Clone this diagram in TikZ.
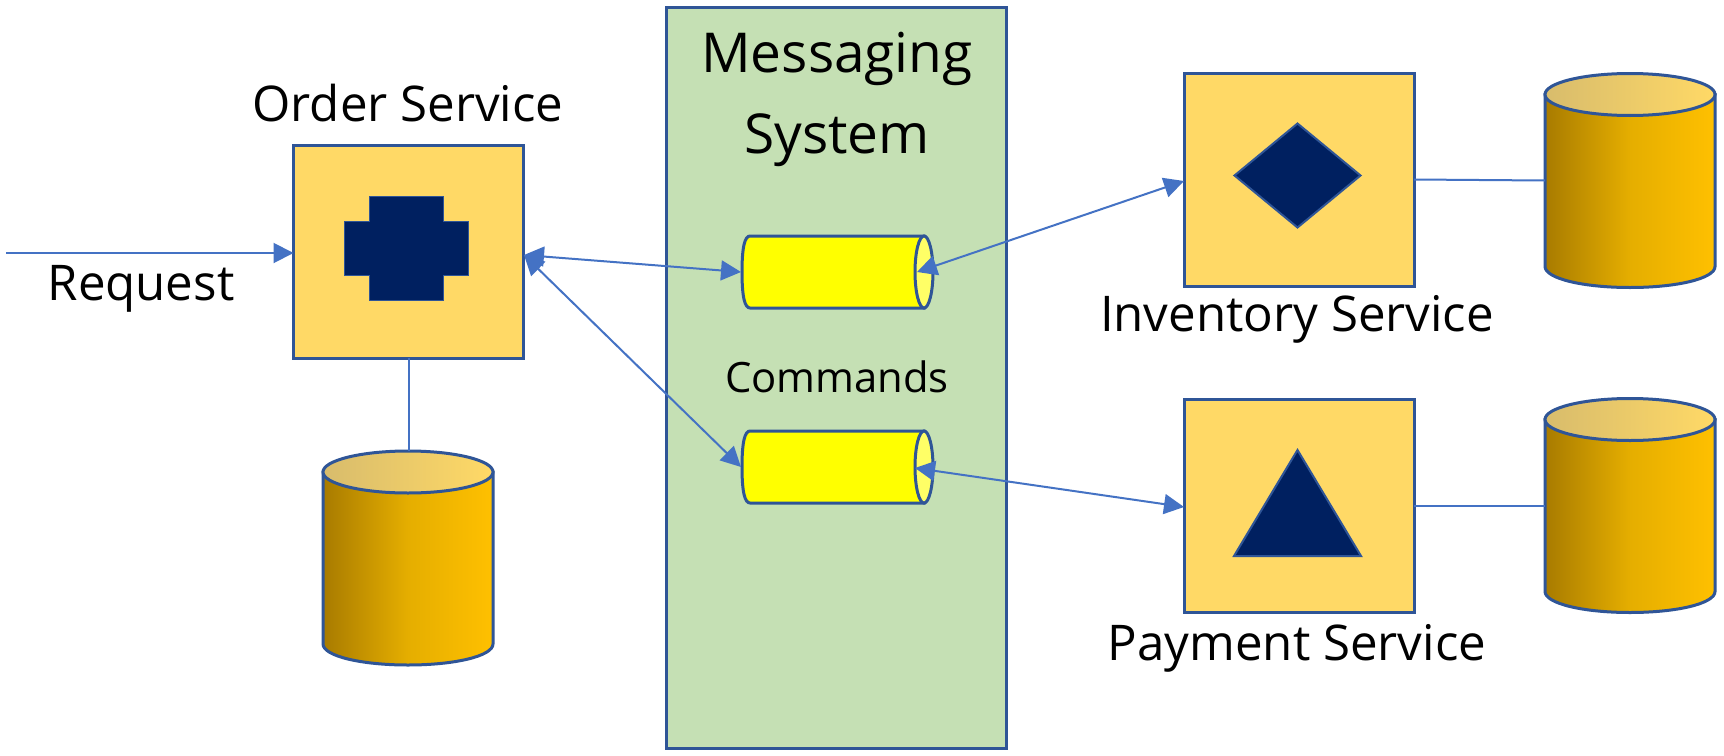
\documentclass[tikz,border=0pt]{standalone}
\usepackage{fontspec}
\setmainfont{Open Sans}
\usetikzlibrary{arrows.meta,shapes.geometric,calc}
\definecolor{edgeblue}{HTML}{2F5597}
\definecolor{linkblue}{HTML}{4472C4}
\definecolor{boxgold}{HTML}{FFD966}
\definecolor{msggreen}{HTML}{C5E0B4}
\definecolor{navy}{HTML}{002060}
\definecolor{dbdark}{HTML}{A87B00}
\definecolor{dbmid}{HTML}{E5AE00}
\definecolor{dbbright}{HTML}{FFC000}
\definecolor{topdark}{HTML}{D8BC6C}
\definecolor{qyellow}{HTML}{FFFF00}
\definecolor{qcap}{HTML}{FFFF66}
\tikzset{
  x=0.5pt,y=-0.5pt,
  every node/.style={inner sep=0pt,outer sep=0pt},
  outline/.style={draw=edgeblue,line width=1.5pt},
  servicebox/.style={outline,fill=boxgold,rectangle,minimum width=115pt,minimum height=106.5pt},
  lbl/.style={text=black,font=\fontsize{24.6}{28}\selectfont,align=center},
  link/.style={draw=linkblue,line width=1pt},
  biarrow/.style={link,{Triangle[length=10pt,width=10pt]}-{Triangle[length=10pt,width=10pt]}},
  onearrow/.style={link,-{Triangle[length=10pt,width=10pt]}},
  dbnode/.style={rectangle,minimum width=85pt,minimum height=107pt},
  queuenode/.style={rectangle,minimum width=95.5pt,minimum height=36pt},
}
\newcommand{\dbcyl}[3]{% name, cx, cy (size 171 x 214 px)
  \node[dbnode] (#1) at (#2,#3) {};
  \path[outline,left color=dbdark,right color=dbbright,middle color=dbmid]
    (#2-85,#3-86) -- (#2-85,#3+86) .. controls (#2-85,#3+98) and (#2-47,#3+107) .. (#2,#3+107) .. controls (#2+47,#3+107) and (#2+85,#3+98) .. (#2+85,#3+86) -- (#2+85,#3-86) -- cycle;
  \path[outline,left color=topdark,right color=boxgold]
    (#2,#3-86) ellipse[x radius=85,y radius=21];
}
\newcommand{\queue}[3]{% name, cx, cy
  \node[queuenode] (#1) at (#2,#3) {};
  \path[outline,fill=qyellow]
    (#2+87,#3-36) -- (#2-87,#3-36) .. controls (#2-92,#3-36) and (#2-95,#3-26) .. (#2-95,#3) .. controls (#2-95,#3+26) and (#2-92,#3+36) .. (#2-87,#3+36) -- (#2+87,#3+36) -- cycle;
  \path[outline,fill=qcap] (#2+87,#3) ellipse[x radius=9,y radius=36];
}
\begin{document}
\begin{tikzpicture}
\useasboundingbox (0,0) rectangle (1724,755);
\fill[white] (0,0) rectangle (1724,755);
% messaging system
\node[outline,fill=msggreen,rectangle,minimum width=170pt,minimum height=370.5pt] (msg) at (836.5,377.5) {};
\node[lbl,font=\fontsize{27.5}{40.5}\selectfont] (msgt) at (837,99.5) {Messaging\\System};
% services
\node[servicebox] (order) at (408.5,251.5) {};
\node[servicebox] (inv) at (1299,179.5) {};
\node[servicebox] (pay) at (1299,505.5) {};
% icons
\path[fill=navy,draw=edgeblue,line width=0.5pt] (369,196) -- (443,196) -- (443,221) -- (468,221) -- (468,275) -- (443,275) -- (443,300) -- (369,300) -- (369,275) -- (344,275) -- (344,221) -- (369,221) -- cycle;
\node[diamond,fill=navy,draw=edgeblue,line width=1pt,minimum width=63pt,minimum height=52pt,aspect=1.2] (dia) at (1297.5,175.5) {};
\path[fill=navy,draw=edgeblue,line width=1pt] (1297.5,450) -- (1361,556) -- (1234,556) -- cycle;
% labels
\node[lbl] (orderl) at (408,103) {Order Service};
\node[lbl] (invl) at (1297,319) {Inventory Service};
\node[lbl] (payl) at (1297,648) {Payment Service};
\node[lbl] (reql) at (141,289) {Request};
\node[lbl,font=\fontsize{20.9}{24}\selectfont] (cmd) at (837,377) {Commands};
% data stores
\dbcyl{dborder}{408}{558}
\dbcyl{dbinv}{1630}{180.5}
\dbcyl{dbpay}{1630}{505.5}
% queues
\queue{qa}{837}{272}
\queue{qb}{837}{467}
% connectors
\coordinate (reqstart) at (6,253);
\coordinate (ordertip) at (524,255);
\coordinate (qaleft) at (741,272);
\coordinate (qbleft) at (741,467);
\coordinate (qaright) at (917,272);
\coordinate (qbright) at (915,468);
\coordinate (invin) at (1184,181);
\coordinate (payin) at (1184,507);
\draw[onearrow] (reqstart) -- (order.west |- reqstart);
\draw[biarrow] (ordertip) -- (qaleft);
\draw[biarrow] (ordertip) -- (qbleft);
\draw[biarrow] (qaright) -- (invin);
\draw[biarrow] (qbright) -- (payin);
\draw[link] (order.south) -- (order.south |- dborder.north);
\draw[link] (inv.east) -- (dbinv.west);
\draw[link] (pay.east) -- (dbpay.west);
\end{tikzpicture}
\end{document}
